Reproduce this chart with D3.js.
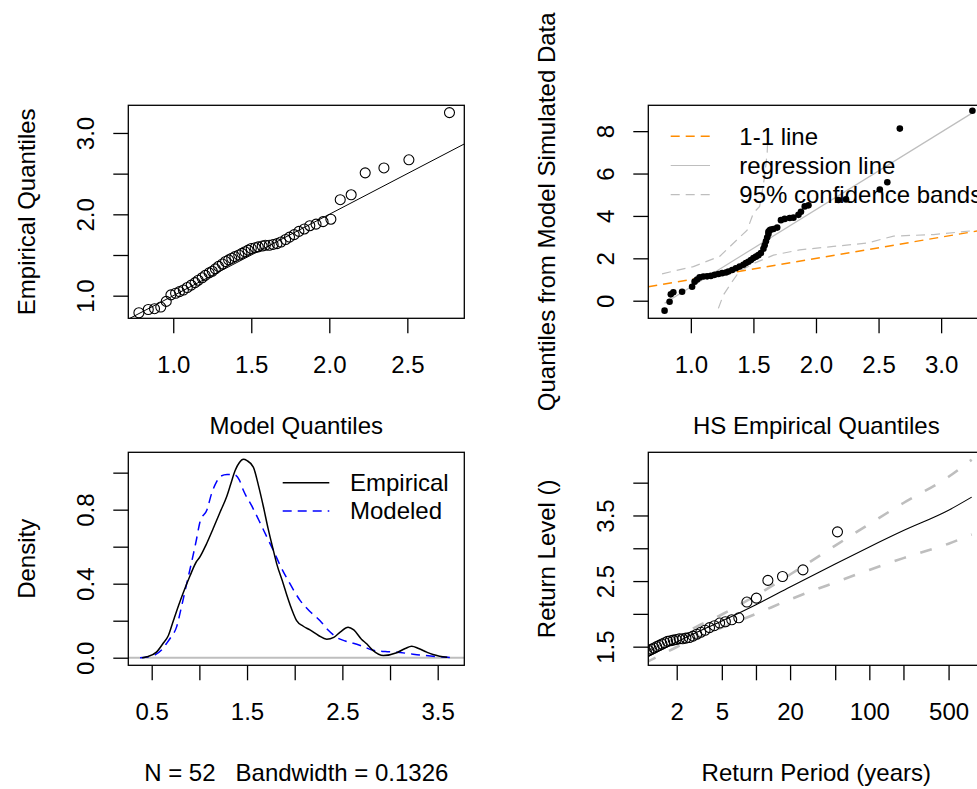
<!DOCTYPE html>
<html>
<head>
<meta charset="utf-8">
<script src="https://cdnjs.cloudflare.com/ajax/libs/d3/7.8.5/d3.min.js"></script>
<style>
body { margin: 0; background: #fff; }
svg text { font-family: "Liberation Sans", Arial, sans-serif; fill: #000; white-space: pre; }
</style>
</head>
<body>
<div id="chart"></div>
<script>
// sorted observations (empirical quantiles), 52 values
var obs = [0.79, 0.83, 0.84, 0.86, 0.93, 1.01, 1.03, 1.05, 1.07, 1.10,
    1.13, 1.16, 1.19, 1.22, 1.25, 1.28, 1.30, 1.33, 1.36, 1.39,
    1.42, 1.44, 1.46, 1.48, 1.50, 1.52, 1.54, 1.56, 1.58, 1.59,
    1.60, 1.61, 1.62, 1.62, 1.63, 1.64, 1.66, 1.69, 1.72, 1.75,
    1.79, 1.82, 1.86, 1.88, 1.91, 1.94, 2.18, 2.24, 2.51, 2.57, 2.67, 3.25];

// model (GEV) quantiles at the same plotting positions
var modelQuantiles = [0.78, 0.84, 0.88, 0.92, 0.955, 0.985, 1.015, 1.04, 1.065, 1.09,
    1.115, 1.14, 1.16, 1.185, 1.205, 1.23, 1.25, 1.27, 1.29, 1.315,
    1.335, 1.355, 1.375, 1.395, 1.42, 1.44, 1.46, 1.48, 1.50, 1.525,
    1.545, 1.57, 1.59, 1.615, 1.64, 1.665, 1.69, 1.72, 1.745, 1.775,
    1.805, 1.84, 1.875, 1.915, 1.96, 2.01, 2.07, 2.14, 2.23, 2.35, 2.51, 2.77];

// sorted quantiles of data simulated from the model
var simQuantiles = [-0.47, -0.05, 0.30, 0.40, 0.42, 0.66, 0.90, 1.00, 1.10, 1.14,
    1.15, 1.17, 1.22, 1.26, 1.30, 1.33, 1.38, 1.45, 1.53, 1.61,
    1.70, 1.78, 1.84, 1.92, 2.01, 2.08, 2.15, 2.25, 2.45, 2.62,
    2.80, 2.98, 3.15, 3.25, 3.32, 3.36, 3.38, 3.45, 3.80, 3.86,
    3.90, 3.92, 4.05, 4.20, 4.45, 4.50, 4.75, 4.78, 5.25, 5.59, 8.12, 8.96];

var regressionCoef = [-3.0, 3.65]; // intercept, slope
var bandUpperX = [0.77, 1.02, 1.23, 1.45, 1.50, 1.55, 1.59, 1.61, 1.62];
var bandUpperY = [1.27, 1.61, 2.09, 3.33, 4.14, 4.45, 5.88, 6.99, 8.35];
var bandLowerX = [1.22, 1.26, 1.33, 1.39, 1.50, 1.66, 1.87, 2.14, 2.41, 2.62, 2.94, 3.25];
var bandLowerY = [-0.36, 0.27, 0.90, 1.40, 1.75, 2.15, 2.40, 2.56, 2.72, 3.05, 3.12, 3.30];

// density curves
var empDensX = [0.40, 0.45, 0.55, 0.62, 0.675, 0.727, 0.78, 0.83, 0.90, 0.97,
    1.00, 1.07, 1.146, 1.22, 1.286, 1.33, 1.374, 1.42, 1.461, 1.50,
    1.566, 1.62, 1.67, 1.72, 1.776, 1.81, 1.88, 1.916, 1.985, 2.02,
    2.09, 2.16, 2.25, 2.336, 2.41, 2.48, 2.56, 2.62, 2.70, 2.755,
    2.82, 2.93, 3.07, 3.16, 3.227, 3.30, 3.385, 3.45, 3.52, 3.60];
var empDensY = [0, 0.005, 0.03, 0.078, 0.12, 0.20, 0.28, 0.35, 0.44, 0.52,
    0.54, 0.61, 0.70, 0.79, 0.87, 0.94, 1.01, 1.055, 1.072, 1.065,
    1.03, 0.93, 0.82, 0.70, 0.58, 0.51, 0.40, 0.34, 0.24, 0.20,
    0.17, 0.15, 0.12, 0.10, 0.11, 0.14, 0.165, 0.15, 0.10, 0.075,
    0.04, 0.012, 0.027, 0.05, 0.062, 0.05, 0.03, 0.017, 0.008, 0.002];
var modDensX = [0.378, 0.45, 0.535, 0.60, 0.657, 0.70, 0.762, 0.81, 0.867, 0.92,
    0.97, 1.007, 1.08, 1.13, 1.18, 1.22, 1.29, 1.36, 1.42, 1.46,
    1.55, 1.636, 1.71, 1.776, 1.846, 1.95, 2.056, 2.16, 2.266, 2.35,
    2.44, 2.53, 2.615, 2.72, 2.825, 2.95, 3.07, 3.20, 3.31, 3.45, 3.55, 3.65];
var modDensY = [0, 0.004, 0.015, 0.04, 0.078, 0.11, 0.168, 0.27, 0.40, 0.52,
    0.64, 0.735, 0.80, 0.89, 0.95, 0.98, 0.99, 0.99, 0.96, 0.906,
    0.82, 0.73, 0.65, 0.58, 0.50, 0.40, 0.31, 0.25, 0.20, 0.15,
    0.11, 0.09, 0.078, 0.06, 0.04, 0.033, 0.03, 0.022, 0.015, 0.008, 0.004, 0];

// return level plot
var obsPeriods = [0.252, 0.305, 0.348, 0.387, 0.424, 0.459, 0.494, 0.529, 0.564, 0.600,
    0.636, 0.673, 0.712, 0.751, 0.792, 0.835, 0.879, 0.926, 0.975, 1.026,
    1.080, 1.137, 1.198, 1.262, 1.331, 1.404, 1.483, 1.567, 1.658, 1.757,
    1.865, 1.982, 2.111, 2.253, 2.410, 2.585, 2.782, 3.006, 3.261, 3.554,
    3.896, 4.299, 4.782, 5.374, 6.113, 7.057, 8.320, 10.09, 12.74, 17.15, 25.97, 52.36];
var rlPeriods = [1.05, 1.12, 1.5, 2, 3, 5, 10, 20, 50, 100, 200, 500, 800];
var rlLevels = [1.32, 1.35, 1.46, 1.57, 1.72, 1.89, 2.14, 2.41, 2.76, 3.02, 3.27, 3.58, 3.78];
var rlUpper = [1.395, 1.425, 1.535, 1.645, 1.805, 1.99, 2.28, 2.60, 3.04, 3.37, 3.69, 4.09, 4.35];
var rlLower = [1.245, 1.275, 1.385, 1.495, 1.635, 1.79, 2.00, 2.22, 2.48, 2.67, 2.85, 3.07, 3.21];

var width = 977, height = 789;
var fontSize = 24;
var boxW = 336, boxH = 213;

var svg = d3.select('#chart').append('svg')
    .attr('width', width)
    .attr('height', height);

var makePanel = function(id, o) {
    var g = svg.append('g').attr('transform', 'translate(' + o.left + ',' + o.top + ')');
    var x = (o.xLog ? d3.scaleLog() : d3.scaleLinear()).domain(o.xDomain).range([0, boxW]);
    var y = d3.scaleLinear().domain(o.yDomain).range([boxH, 0]);

    g.append('clipPath').attr('id', 'clip-' + id)
        .append('rect').attr('width', boxW).attr('height', boxH);
    var plot = g.append('g').attr('clip-path', 'url(#clip-' + id + ')');

    var xa = g.append('g')
        .attr('transform', 'translate(0,' + boxH + ')')
        .call(d3.axisBottom(x).tickValues(o.xTicks).tickSize(15)
            .tickFormat(function(d, i) { return o.xLabels[i]; }));
    xa.attr('font-size', null).attr('font-family', null);
    xa.select('.domain').remove();
    xa.selectAll('line').attr('stroke-width', 1.3);
    xa.selectAll('text').attr('y', 54.5).attr('dy', null).style('font-size', fontSize + 'px');

    var ya = g.append('g')
        .call(d3.axisLeft(y).tickValues(o.yTicks).tickSize(15)
            .tickFormat(function(d, i) { return o.yLabels[i]; }));
    ya.attr('font-size', null).attr('font-family', null);
    ya.select('.domain').remove();
    ya.selectAll('line').attr('stroke-width', 1.3);
    ya.selectAll('text')
        .attr('transform', 'rotate(-90)')
        .attr('x', 0).attr('y', -34).attr('dy', null)
        .attr('text-anchor', 'middle')
        .style('font-size', fontSize + 'px');

    g.append('rect')
        .attr('width', boxW).attr('height', boxH)
        .attr('fill', 'none').attr('stroke', '#000').attr('stroke-width', 1.3);

    g.append('text')
        .attr('x', boxW / 2).attr('y', boxH + 116)
        .attr('text-anchor', 'middle')
        .style('font-size', fontSize + 'px')
        .text(o.xTitle);
    g.append('text')
        .attr('transform', 'translate(-93,' + boxH / 2 + ') rotate(-90)')
        .attr('text-anchor', 'middle')
        .style('font-size', fontSize + 'px')
        .text(o.yTitle);

    return { g: g, plot: plot, x: x, y: y };
};

var legend = function(g, items, lx, ly, tx, gap) {
    items.forEach(function(it, i) {
        g.append('line')
            .attr('x1', lx[0]).attr('x2', lx[1])
            .attr('y1', ly + i * gap).attr('y2', ly + i * gap)
            .attr('stroke', it.color).attr('stroke-width', it.width)
            .attr('stroke-dasharray', it.dash || null);
        g.append('text')
            .attr('x', tx).attr('y', ly + i * gap)
            .attr('dy', '0.35em')
            .style('font-size', fontSize + 'px')
            .text(it.label);
    });
};

// ---- panel 1: QQ plot model vs empirical
var p1 = makePanel('qq', {
    left: 128.3, top: 105.3,
    xDomain: [0.712, 2.865], yDomain: [0.722, 3.34],
    xTicks: [1.0, 1.5, 2.0, 2.5], xLabels: ['1.0', '1.5', '2.0', '2.5'],
    yTicks: [1.0, 1.5, 2.0, 2.5, 3.0], yLabels: ['1.0', '', '2.0', '', '3.0'],
    xTitle: 'Model Quantiles', yTitle: 'Empirical Quantiles'
});
p1.plot.append('line')
    .attr('x1', p1.x(0.712)).attr('y1', p1.y(0.712))
    .attr('x2', p1.x(2.865)).attr('y2', p1.y(2.865))
    .attr('stroke', '#000').attr('stroke-width', 1);
p1.plot.selectAll('circle').data(obs).enter().append('circle')
    .attr('cx', function(d, i) { return p1.x(modelQuantiles[i]); })
    .attr('cy', function(d) { return p1.y(d); })
    .attr('r', 5)
    .attr('fill', 'none').attr('stroke', '#000').attr('stroke-width', 1.1);

// ---- panel 2: QQ plot of simulated data
var p2 = makePanel('sim', {
    left: 648.3, top: 105.3,
    xDomain: [0.66, 3.345], yDomain: [-0.83, 9.22],
    xTicks: [1.0, 1.5, 2.0, 2.5, 3.0], xLabels: ['1.0', '1.5', '2.0', '2.5', '3.0'],
    yTicks: [0, 2, 4, 6, 8], yLabels: ['0', '2', '4', '6', '8'],
    xTitle: 'HS Empirical Quantiles', yTitle: 'Quantiles from Model Simulated Data'
});
var band = d3.line()
    .x(function(d) { return p2.x(d[0]); })
    .y(function(d) { return p2.y(d[1]); });
p2.plot.append('path')
    .attr('d', band(d3.zip(bandUpperX, bandUpperY)))
    .attr('fill', 'none').attr('stroke', '#bebebe').attr('stroke-width', 1.2)
    .attr('stroke-dasharray', '9,6');
p2.plot.append('path')
    .attr('d', band(d3.zip(bandLowerX, bandLowerY)))
    .attr('fill', 'none').attr('stroke', '#bebebe').attr('stroke-width', 1.2)
    .attr('stroke-dasharray', '9,6');
var xr = d3.extent(obs);
p2.plot.append('line')
    .attr('x1', p2.x(xr[0])).attr('y1', p2.y(regressionCoef[0] + regressionCoef[1] * xr[0]))
    .attr('x2', p2.x(xr[1])).attr('y2', p2.y(regressionCoef[0] + regressionCoef[1] * xr[1]))
    .attr('stroke', '#bebebe').attr('stroke-width', 1.2);
p2.plot.append('line')
    .attr('x1', p2.x(0.66)).attr('y1', p2.y(0.66))
    .attr('x2', p2.x(3.345)).attr('y2', p2.y(3.345))
    .attr('stroke', '#ff8c00').attr('stroke-width', 1.5)
    .attr('stroke-dasharray', '9,6');
p2.plot.selectAll('circle').data(obs).enter().append('circle')
    .attr('cx', function(d) { return p2.x(d); })
    .attr('cy', function(d, i) { return p2.y(simQuantiles[i]); })
    .attr('r', 3.3)
    .attr('fill', '#000');
legend(p2.g, [
    { label: '1-1 line', color: '#ff8c00', width: 1.5, dash: '9,6' },
    { label: 'regression line', color: '#bebebe', width: 1.2 },
    { label: '95% confidence bands', color: '#bebebe', width: 1.2, dash: '9,6' }
], [22.4, 61.7], 31, 91, 29.2);

// ---- panel 3: density
var p3 = makePanel('dens', {
    left: 128.3, top: 452.3,
    xDomain: [0.2545, 3.779], yDomain: [-0.041, 1.110],
    xTicks: [0.5, 1.0, 1.5, 2.0, 2.5, 3.0, 3.5], xLabels: ['0.5', '', '1.5', '', '2.5', '', '3.5'],
    yTicks: [0, 0.2, 0.4, 0.6, 0.8, 1.0], yLabels: ['0.0', '', '0.4', '', '0.8', ''],
    xTitle: 'N = 52   Bandwidth = 0.1326', yTitle: 'Density'
});
p3.plot.append('line')
    .attr('x1', 0).attr('x2', boxW)
    .attr('y1', p3.y(0)).attr('y2', p3.y(0))
    .attr('stroke', '#bebebe').attr('stroke-width', 2);
var densLine = d3.line()
    .x(function(d) { return p3.x(d[0]); })
    .y(function(d) { return p3.y(d[1]); })
    .curve(d3.curveMonotoneX);
p3.plot.append('path')
    .attr('d', densLine(d3.zip(modDensX, modDensY)))
    .attr('fill', 'none').attr('stroke', '#0000ff').attr('stroke-width', 1.5)
    .attr('stroke-dasharray', '9,6');
p3.plot.append('path')
    .attr('d', densLine(d3.zip(empDensX, empDensY)))
    .attr('fill', 'none').attr('stroke', '#000').attr('stroke-width', 1.5);
legend(p3.g, [
    { label: 'Empirical', color: '#000', width: 1.5 },
    { label: 'Modeled', color: '#0000ff', width: 1.5, dash: '9,6' }
], [154.4, 201], 30.4, 221.7, 28.4);

// ---- panel 4: return level plot
var p4 = makePanel('rl', {
    left: 648.3, top: 452.3,
    xLog: true,
    xDomain: [1.123, 1033], yDomain: [1.216, 4.463],
    xTicks: [2, 5, 10, 20, 50, 100, 200, 500], xLabels: ['2', '5', '', '20', '', '100', '', '500'],
    yTicks: [1.5, 2.0, 2.5, 3.0, 3.5, 4.0], yLabels: ['1.5', '', '2.5', '', '3.5', ''],
    xTitle: 'Return Period (years)', yTitle: 'Return Level ()'
});
var rlLine = function(vals) {
    return d3.line()
        .x(function(d, i) { return p4.x(rlPeriods[i]); })
        .y(function(d) { return p4.y(d); })
        .curve(d3.curveMonotoneX)(vals);
};
[rlUpper, rlLower].forEach(function(vals) {
    p4.plot.append('path')
        .attr('d', rlLine(vals))
        .attr('fill', 'none').attr('stroke', '#bebebe').attr('stroke-width', 2.6)
        .attr('stroke-dasharray', '12,15');
});
p4.plot.append('path')
    .attr('d', rlLine(rlLevels))
    .attr('fill', 'none').attr('stroke', '#000').attr('stroke-width', 1.1);
p4.plot.selectAll('circle').data(obs).enter().append('circle')
    .attr('cx', function(d, i) { return p4.x(obsPeriods[i]); })
    .attr('cy', function(d) { return p4.y(d); })
    .attr('r', 5)
    .attr('fill', 'none').attr('stroke', '#000').attr('stroke-width', 1.1);
</script>
</body>
</html>
